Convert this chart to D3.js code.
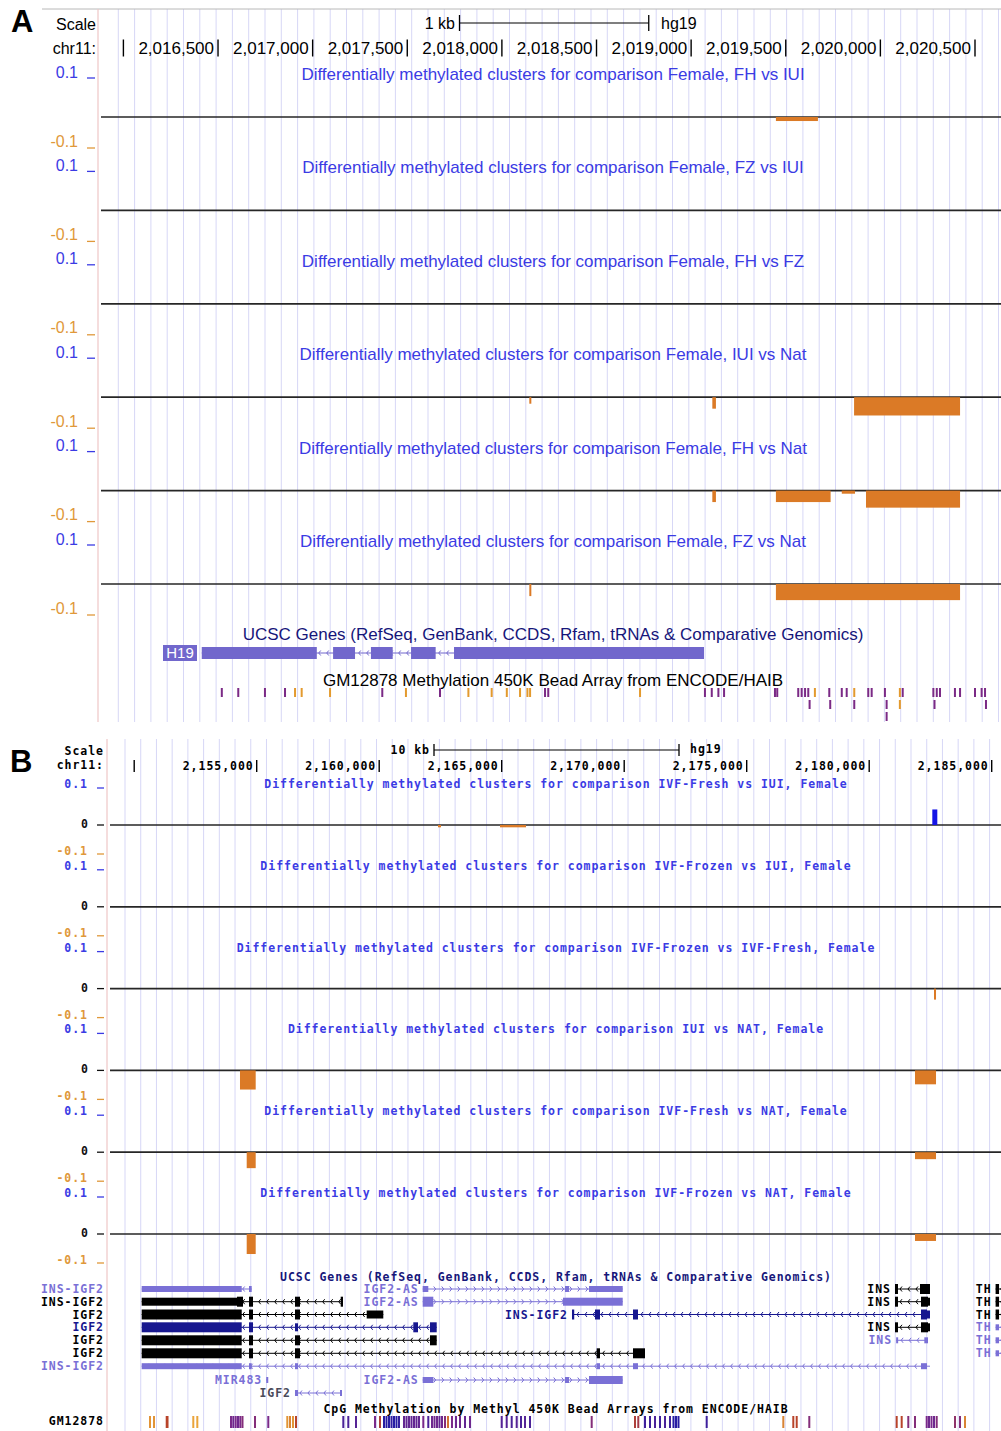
<!DOCTYPE html>
<html>
<head>
<meta charset="utf-8">
<script src="https://cdn.jsdelivr.net/npm/d3@7"></script>
<style>
  body { margin: 0; background: #fff; }
  svg { display: block; }
</style>
</head>
<body>
<svg id="fig" width="1001" height="1431"></svg>
<script>
/* ── Data: panel A (chr11, H19 region) ───────────────────────────── */

const tracksA = [
  'Female, FH vs IUI', 'Female, FZ vs IUI', 'Female, FH vs FZ',
  'Female, IUI vs Nat', 'Female, FH vs Nat', 'Female, FZ vs Nat',
];

// differentially methylated clusters: track index, chrom start, chrom end, value
const clustersA = [
  { track: 0, start: 2019448, end: 2019670, value: -0.013 },
  { track: 3, start: 2018145, end: 2018155, value: -0.021 },
  { track: 3, start: 2019112, end: 2019131, value: -0.037 },
  { track: 3, start: 2019861, end: 2020421, value: -0.059 },
  { track: 4, start: 2019112, end: 2019131, value: -0.037 },
  { track: 4, start: 2019448, end: 2019737, value: -0.037 },
  { track: 4, start: 2019796, end: 2019866, value: -0.010 },
  { track: 4, start: 2019924, end: 2020421, value: -0.055 },
  { track: 5, start: 2018145, end: 2018155, value: -0.039 },
  { track: 5, start: 2019448, end: 2020421, value: -0.052 },
];

const rulerA = [2016000, 2016500, 2017000, 2017500, 2018000, 2018500, 2019000, 2019500, 2020000, 2020500];

const h19Exons = [
  [2016414, 2017022], [2017108, 2017224], [2017308, 2017423],
  [2017520, 2017650], [2017747, 2019068],
];

// 450K probes: position, call (P = purple, O = orange), stacking row
const beadA = [
  [2016520, 'P', 0], [2016607, 'P', 0], [2016748, 'P', 0], [2016854, 'P', 0],
  [2016907, 'O', 0], [2016942, 'O', 0], [2017092, 'O', 0], [2017368, 'P', 0],
  [2017493, 'O', 0], [2017673, 'P', 0], [2017823, 'O', 0], [2017946, 'O', 0],
  [2018026, 'O', 0], [2018096, 'O', 0], [2018135, 'O', 0], [2018149, 'O', 0],
  [2018228, 'P', 0], [2018245, 'P', 0], [2018730, 'O', 0],
  [2019073, 'P', 0], [2019109, 'P', 0], [2019144, 'P', 0], [2019174, 'P', 0],
  [2019443, 'P', 0], [2019455, 'P', 0], [2019566, 'P', 0], [2019584, 'P', 0],
  [2019602, 'P', 0], [2019619, 'P', 0], [2019654, 'O', 0], [2019730, 'P', 0],
  [2019796, 'P', 0], [2019822, 'P', 0], [2019862, 'O', 0], [2019936, 'P', 0],
  [2019954, 'P', 0], [2020024, 'P', 0], [2020103, 'O', 0], [2020118, 'P', 0],
  [2020280, 'P', 0], [2020298, 'P', 0], [2020315, 'P', 0], [2020394, 'P', 0],
  [2020421, 'P', 0], [2020500, 'P', 0], [2020535, 'P', 0], [2020553, 'P', 0],
  [2019626, 'P', 1], [2019735, 'P', 1], [2019862, 'P', 1], [2020033, 'P', 1],
  [2020103, 'O', 1], [2020286, 'P', 1], [2020558, 'P', 1],
  [2020033, 'P', 2],
];

/* ── Data: panel B (chr11, IGF2 / INS region) ────────────────────── */

const tracksB = [
  'IVF-Fresh vs IUI, Female', 'IVF-Frozen vs IUI, Female', 'IVF-Frozen vs IVF-Fresh, Female',
  'IUI vs NAT, Female', 'IVF-Fresh vs NAT, Female', 'IVF-Frozen vs NAT, Female',
];

const clustersB = [
  { track: 0, start: 2162400, end: 2162522, value: -0.008 },
  { track: 0, start: 2164931, end: 2165992, value: -0.008 },
  { track: 0, start: 2182576, end: 2182780, value: 0.042 },
  { track: 2, start: 2182645, end: 2182727, value: -0.038 },
  { track: 3, start: 2154318, end: 2154959, value: -0.066 },
  { track: 3, start: 2181869, end: 2182727, value: -0.048 },
  { track: 4, start: 2154592, end: 2154959, value: -0.055 },
  { track: 4, start: 2181869, end: 2182727, value: -0.024 },
  { track: 5, start: 2154592, end: 2154959, value: -0.069 },
  { track: 5, start: 2181869, end: 2182727, value: -0.024 },
];

const rulerB = [2150000, 2155000, 2160000, 2165000, 2170000, 2175000, 2180000, 2185000];

// gene models; exon kind: c = coding, u = utr, n = non-coding
const genesB = [
  { row: 0, name: 'INS-IGF2', col: 'lp', strand: '-', side: true, start: 2150306, end: 2154796,
    exons: [[2150306, 2154388, 'n'], [2154686, 2154796, 'n']] },
  { row: 0, name: 'IGF2-AS', col: 'lp', strand: '+', start: 2161775, end: 2169939,
    exons: [[2161775, 2162004, 'n'], [2167584, 2167747, 'n'], [2168563, 2169939, 'n']] },
  { row: 0, name: 'INS', col: 'bk', strand: '-', start: 2181053, end: 2182481,
    exons: [[2181053, 2181175, 'c'], [2182073, 2182481, 'c']] },
  { row: 0, name: 'TH', col: 'bk', strand: '-', start: 2185159, end: 2193107,
    exons: [[2185159, 2185300, 'c']] },

  { row: 1, name: 'INS-IGF2', col: 'bk', strand: '-', side: true, start: 2150306, end: 2158522,
    exons: [[2150306, 2154196, 'u'], [2154196, 2154441, 'c'], [2154686, 2154849, 'c'],
            [2156563, 2156767, 'c'], [2158429, 2158522, 'c']] },
  { row: 1, name: 'IGF2-AS', col: 'lp', strand: '+', start: 2161775, end: 2169939,
    exons: [[2161775, 2162208, 'c'], [2167502, 2169939, 'u']] },
  { row: 1, name: 'INS', col: 'bk', strand: '-', start: 2181053, end: 2182481,
    exons: [[2181053, 2181175, 'c'], [2182114, 2182400, 'c'], [2182400, 2182481, 'u']] },
  { row: 1, name: 'TH', col: 'bk', strand: '-', start: 2185159, end: 2193107,
    exons: [[2185159, 2185300, 'c']] },

  { row: 2, name: 'IGF2', col: 'bk', strand: '-', side: true, start: 2150306, end: 2160167,
    exons: [[2150306, 2154388, 'c'], [2154686, 2154849, 'c'], [2156563, 2156767, 'c'],
            [2159490, 2160167, 'u']] },
  { row: 2, name: 'INS-IGF2', col: 'nv', strand: '-', start: 2167869, end: 2182481,
    exons: [[2167869, 2167960, 'c'], [2168808, 2169012, 'c'], [2170359, 2170563, 'c'],
            [2182114, 2182359, 'c'], [2182359, 2182481, 'u']] },
  { row: 2, name: 'TH', col: 'bk', strand: '-', start: 2185159, end: 2193107,
    exons: [[2185159, 2185300, 'c']] },

  { row: 3, name: 'IGF2', col: 'nv', strand: '-', side: true, start: 2150306, end: 2162347,
    exons: [[2150306, 2154388, 'c'], [2154686, 2154849, 'c'], [2156563, 2156686, 'u'],
            [2161392, 2161584, 'c'], [2162073, 2162347, 'c']] },
  { row: 3, name: 'INS', col: 'bk', strand: '-', start: 2181053, end: 2182481,
    exons: [[2181053, 2181175, 'c'], [2182114, 2182400, 'c'], [2182400, 2182481, 'u']] },
  { row: 3, name: 'TH', col: 'lp', strand: '-', start: 2185159, end: 2193107,
    exons: [[2185159, 2185300, 'n']] },

  { row: 4, name: 'IGF2', col: 'bk', strand: '-', side: true, start: 2150306, end: 2162347,
    exons: [[2150306, 2154388, 'c'], [2154686, 2154849, 'c'], [2156563, 2156767, 'c'],
            [2162073, 2162347, 'c']] },
  { row: 4, name: 'INS', col: 'lp', strand: '-', start: 2181100, end: 2182400,
    exons: [[2181100, 2181175, 'n'], [2182250, 2182400, 'n']] },
  { row: 4, name: 'TH', col: 'lp', strand: '-', start: 2185159, end: 2193107,
    exons: [[2185159, 2185300, 'n']] },

  { row: 5, name: 'IGF2', col: 'bk', strand: '-', side: true, start: 2150306, end: 2170849,
    exons: [[2150306, 2154388, 'c'], [2154686, 2154849, 'c'], [2156563, 2156767, 'c'],
            [2168877, 2169012, 'c'], [2170359, 2170849, 'c']] },
  { row: 5, name: 'TH', col: 'lp', strand: '-', start: 2185159, end: 2193107,
    exons: [[2185159, 2185300, 'n']] },

  { row: 6, name: 'INS-IGF2', col: 'lp', strand: '-', side: true, start: 2150306, end: 2182481,
    exons: [[2150306, 2154388, 'n'], [2154686, 2154796, 'n'], [2156563, 2156686, 'n'],
            [2168877, 2169012, 'n'], [2170359, 2170563, 'n'], [2182114, 2182359, 'n']] },

  { row: 7, name: 'MIR483', col: 'lp', strand: '-', start: 2155390, end: 2155440,
    exons: [[2155390, 2155440, 'n']] },
  { row: 7, name: 'IGF2-AS', col: 'lp', strand: '+', start: 2161775, end: 2169939,
    exons: [[2161775, 2162208, 'n'], [2167584, 2167747, 'n'], [2168563, 2169939, 'u']] },

  { row: 8, name: 'IGF2', col: 'lp', strand: '-', start: 2156563, end: 2158429,
    exons: [[2156563, 2156686, 'n'], [2158400, 2158429, 'n']] },
];

// 450K probes in GM12878: position, beta value
const beadB = [
  [2150645, 0.95], [2150808, 0.95], [2151327, 0.7], [2151360, 0.7], [2152412, 1], [2152576, 1],
  [2153951, 0.4], [2154045, 0.35], [2154143, 0.4], [2154237, 0.35], [2154331, 0.4], [2154420, 0.45],
  [2154931, 0.45], [2155473, 0.4],
  [2156249, 0.95], [2156359, 0.9], [2156482, 0.95], [2156604, 0.7],
  [2158535, 0.2], [2158739, 0.2], [2159053, 0.25], [2159829, 0.4], [2160033, 0.65],
  [2160196, 0.05], [2160298, 0.05], [2160400, 0.05], [2160502, 0.1], [2160604, 0.05], [2160706, 0.05], [2160808, 0.1],
  [2161012, 0.3], [2161114, 0.3], [2161216, 0.3], [2161318, 0.3], [2161420, 0.3], [2161522, 0.3], [2161624, 0.3],
  [2161800, 0.4], [2162004, 0.2],
  [2162155, 0.35], [2162257, 0.35], [2162359, 0.35], [2162461, 0.3], [2162563, 0.35],
  [2162686, 0.45], [2162808, 0.85], [2162971, 0.4], [2163135, 0.35], [2163298, 0.35], [2163502, 0.3], [2163706, 0.35],
  [2165000, 0.25], [2165204, 0.25], [2165408, 0.2], [2165612, 0.25], [2165788, 0.2], [2165951, 0.25], [2166155, 0.2],
  [2168673, 0.45], [2170441, 0.65], [2170575, 0.6],
  [2170849, 0.15], [2171053, 0.15], [2171257, 0.2], [2171461, 0.15], [2171665, 0.2], [2171869, 0.15],
  [2172012, 0.05], [2172114, 0.05], [2172216, 0.05], [2173367, 0.15],
  [2176494, 0.9], [2176902, 0.7], [2177041, 0.7], [2177555, 0.45],
  [2181122, 0.7], [2181326, 0.7], [2181596, 0.45], [2181869, 0.45],
  [2182347, 0.4], [2182441, 0.35], [2182543, 0.4], [2182645, 0.35], [2182755, 0.45],
  [2183502, 0.5], [2183706, 0.45], [2183910, 0.9],
];

/* ── Styles ───────────────────────────────────────────────────────── */

const W = 1001;
const SANS = '"Liberation Sans", Arial, Helvetica, sans-serif';
const MONO = '"DejaVu Sans Mono", monospace';
const C = {
  blue: '#3b3be4', neg: '#db7a26', negTxt: '#e0983a', grid: '#d7d7f6', border: '#efc6c6',
  geneA: '#7167cc', title: '#16167a', purple: '#7b2a86', orange: '#e39a2e',
};
const GENE_COL = { lp: '#7a70d6', bk: '#000000', nv: '#17178f' };
const EX_H = { c: 10, u: 8, n: 6 };
const betaColor = d3.scaleLinear()
  .domain([0, 0.4, 0.7, 1])
  .range(['#1a1aa6', '#7a2a8a', '#b8442a', '#eaa43a']);

const svg = d3.select('#fig');

/* ── Helpers ──────────────────────────────────────────────────────── */

function txt(g, x, y, s, o = {}) {
  return g.append('text')
    .attr('x', x).attr('y', y).attr('dy', '0.35em')
    .attr('text-anchor', o.anchor || 'start')
    .attr('font-family', o.font || SANS)
    .attr('font-size', o.size || 17)
    .attr('font-weight', o.weight || null)
    .attr('letter-spacing', o.ls || null)
    .attr('fill', o.fill || '#000')
    .text(s);
}

function hline(g, x1, x2, y, color, w = 1) {
  g.append('line').attr('x1', x1).attr('x2', x2).attr('y1', y).attr('y2', y)
    .attr('stroke', color).attr('stroke-width', w);
}

function guides(g, x0, step, y0, y1) {
  g.append('g').selectAll('line')
    .data(d3.range(x0, W, step))
    .join('line')
    .attr('x1', d => d).attr('x2', d => d)
    .attr('y1', y0).attr('y2', y1)
    .attr('stroke', C.grid).attr('stroke-width', 1);
}

function ruler(g, x, ticks, y, o) {
  const fmt = d3.format(',');
  g.append('g').selectAll('line')
    .data(ticks)
    .join('line')
    .attr('x1', d => x(d)).attr('x2', d => x(d))
    .attr('y1', y - o.th / 2).attr('y2', y + o.th / 2)
    .attr('stroke', '#000').attr('stroke-width', 1.4);
  g.append('g').selectAll('text')
    .data(ticks.slice(1))
    .join('text')
    .attr('x', d => x(d) - o.gap).attr('y', y).attr('dy', '0.35em')
    .attr('text-anchor', 'end')
    .attr('font-family', o.font).attr('font-size', o.size)
    .attr('font-weight', o.weight || null)
    .attr('letter-spacing', o.ls || null)
    .text(d => fmt(d));
}

function scaleBar(g, x0, x1, y, th) {
  hline(g, x0, x1, y, '#000', 1.2);
  [x0, x1].forEach(v => g.append('line').attr('x1', v).attr('x2', v)
    .attr('y1', y - th / 2).attr('y2', y + th / 2).attr('stroke', '#000').attr('stroke-width', 1.3));
}

function intron(g, x0, x1, y, strand, color) {
  hline(g, x0, x1, y, color, 1);
  g.append('g').selectAll('path')
    .data(d3.range(x0 + 5, x1 - 3, 8))
    .join('path')
    .attr('d', d => strand === '-'
      ? `M${d + 2},${y - 2.5}L${d},${y}L${d + 2},${y + 2.5}`
      : `M${d - 2},${y - 2.5}L${d},${y}L${d - 2},${y + 2.5}`)
    .attr('fill', 'none').attr('stroke', color).attr('stroke-width', 1);
}

function wiggles(g, cfg) {
  cfg.names.forEach((name, i) => {
    const base = cfg.base0 + i * cfg.step;
    const y = d3.scaleLinear().domain([-0.1, 0, 0.1])
      .range([base + cfg.below, base, base - cfg.above]);

    txt(g, cfg.center, base - cfg.titleOff,
      'Differentially methylated clusters for comparison ' + name,
      { anchor: 'middle', fill: C.blue, ...cfg.font });

    txt(g, cfg.labX, base + cfg.posLab, '0.1', { anchor: 'end', fill: C.blue, ...cfg.labFont });
    hline(g, cfg.uX0, cfg.uX1, y(0.1), C.blue, 1.3);
    txt(g, cfg.labX, base + cfg.negLab, '-0.1', { anchor: 'end', fill: C.negTxt, ...cfg.labFont });
    hline(g, cfg.uX0, cfg.uX1, y(-0.1), C.negTxt, 1.3);
    if (cfg.zero) {
      txt(g, cfg.labX + 1, base - 1, '0', { anchor: 'end', fill: '#111', ...cfg.labFont });
      hline(g, cfg.uX0, cfg.uX1, base, '#111', 1.3);
    }

    hline(g, cfg.lineX0, W, base, '#262626', 1.7);

    g.append('g').selectAll('rect')
      .data(cfg.clusters.filter(c => c.track === i))
      .join('rect')
      .attr('x', d => cfg.x(d.start))
      .attr('width', d => Math.max(2, cfg.x(d.end) - cfg.x(d.start)))
      .attr('y', d => Math.min(y(d.value), base))
      .attr('height', d => Math.abs(y(d.value) - base))
      .attr('fill', d => d.value < 0 ? C.neg : '#1414e6');
  });
}

/* ── Panel A ──────────────────────────────────────────────────────── */

const xA = d3.scaleLinear().domain([2016000, 2020500]).range([123.4, 975]);
const gA = svg.append('g');

guides(gA, 118.3, 16.3, 9, 722);
hline(gA, 42, W, 9, '#b8b8b8', 1);
gA.append('line').attr('x1', 98).attr('x2', 98).attr('y1', 9).attr('y2', 722)
  .attr('stroke', C.border).attr('stroke-width', 1.2);

txt(gA, 11, 21, 'A', { size: 31, weight: 'bold', font: '"Liberation Sans", Arial, sans-serif' });
txt(gA, 96, 24, 'Scale', { anchor: 'end', size: 16 });
txt(gA, 96, 48, 'chr11:', { anchor: 'end', size: 16 });
txt(gA, 455, 23, '1 kb', { anchor: 'end', size: 16 });
scaleBar(gA, 459.5, 459.5 + xA(2017000) - xA(2016000), 23, 16);
txt(gA, 661, 23, 'hg19', { size: 16 });
ruler(gA, xA, rulerA, 48, { th: 17, gap: 4, font: SANS, size: 17 });

wiggles(gA, {
  names: tracksA, clusters: clustersA, x: xA,
  base0: 117, step: 93.4, above: 39, below: 31,
  center: 553, titleOff: 43, font: { size: 17 },
  labX: 78, posLab: -45, negLab: 24, labFont: { size: 16 },
  uX0: 87, uX1: 95, lineX0: 101, zero: false,
});

// UCSC genes (H19)
txt(gA, 553, 634, 'UCSC Genes (RefSeq, GenBank, CCDS, Rfam, tRNAs & Comparative Genomics)',
  { anchor: 'middle', fill: C.title, size: 17 });
gA.append('rect').attr('x', 163).attr('y', 645).attr('width', 34).attr('height', 16).attr('fill', C.geneA);
txt(gA, 180, 653, 'H19', { anchor: 'middle', fill: '#fff', size: 15 });
intron(gA, xA(h19Exons[0][0]), xA(h19Exons[h19Exons.length - 1][1]), 653, '-', C.geneA);
gA.append('g').selectAll('rect')
  .data(h19Exons)
  .join('rect')
  .attr('x', d => xA(d[0])).attr('width', d => xA(d[1]) - xA(d[0]))
  .attr('y', 647).attr('height', 12)
  .attr('fill', C.geneA);

// 450K bead array
txt(gA, 553, 680, 'GM12878 Methylation 450K Bead Array from ENCODE/HAIB', { anchor: 'middle', size: 17 });
gA.append('g').selectAll('rect')
  .data(beadA)
  .join('rect')
  .attr('x', d => xA(d[0]) - 1).attr('width', 2)
  .attr('y', d => 688 + d[2] * 12).attr('height', 9)
  .attr('fill', d => d[1] === 'P' ? C.purple : C.orange);

/* ── Panel B ──────────────────────────────────────────────────────── */

const xB = d3.scaleLinear().domain([2150000, 2185000]).range([134.2, 991.7]);
const gB = svg.append('g');
const monoB = { font: MONO, size: 11.5, ls: 0.96, weight: 'bold' };

guides(gB, 125, 15.72, 739, 1431);
gB.append('line').attr('x1', 107).attr('x2', 107).attr('y1', 739).attr('y2', 1431)
  .attr('stroke', C.border).attr('stroke-width', 1.2);

txt(gB, 10, 761, 'B', { size: 31, weight: 'bold' });
txt(gB, 104, 751, 'Scale', { anchor: 'end', ...monoB });
txt(gB, 104, 765, 'chr11:', { anchor: 'end', ...monoB });
txt(gB, 430, 750, '10 kb', { anchor: 'end', ...monoB });
scaleBar(gB, 434, 434 + xB(2160000) - xB(2150000), 750, 12);
txt(gB, 690, 749, 'hg19', monoB);
ruler(gB, xB, rulerB, 766, { th: 12, gap: 3, ...monoB });

wiggles(gB, {
  names: tracksB, clusters: clustersB, x: xB,
  base0: 825, step: 81.8, above: 37, below: 29,
  center: 556, titleOff: 41, font: monoB,
  labX: 88, posLab: -41, negLab: 26, labFont: monoB,
  uX0: 97, uX1: 104, lineX0: 110, zero: true,
});

// UCSC genes (INS / IGF2 / TH)
txt(gB, 556, 1277, 'UCSC Genes (RefSeq, GenBank, CCDS, Rfam, tRNAs & Comparative Genomics)',
  { anchor: 'middle', ...monoB, fill: C.title });
const rowY = [1289, 1301.7, 1314.5, 1327.3, 1340.3, 1353.3, 1366.2, 1380, 1393];

genesB.forEach(gene => {
  const color = GENE_COL[gene.col];
  const y = rowY[gene.row];
  const x0 = xB(gene.start);
  intron(gB, x0, xB(gene.end), y, gene.strand, color);
  gB.append('g').selectAll('rect')
    .data(gene.exons)
    .join('rect')
    .attr('x', d => xB(d[0])).attr('width', d => Math.max(2, xB(d[1]) - xB(d[0])))
    .attr('y', d => y - EX_H[d[2]] / 2).attr('height', d => EX_H[d[2]])
    .attr('fill', color);
  const labCol = gene.name === 'IGF2' && gene.row === 8 ? '#4a4a5a' : color;
  if (gene.side) txt(gB, 104, y, gene.name, { anchor: 'end', ...monoB, fill: labCol });
  else txt(gB, x0 - 4, y, gene.name, { anchor: 'end', ...monoB, fill: labCol });
});

// 450K bead array
txt(gB, 556, 1409, 'CpG Methylation by Methyl 450K  Bead Arrays from ENCODE/HAIB',
  { anchor: 'middle', ...monoB });
txt(gB, 104, 1421, 'GM12878', { anchor: 'end', ...monoB });
gB.append('g').selectAll('rect')
  .data(beadB)
  .join('rect')
  .attr('x', d => xB(d[0]) - 1).attr('width', 2)
  .attr('y', 1416).attr('height', 12)
  .attr('fill', d => betaColor(d[1]));
</script>
</body>
</html>
